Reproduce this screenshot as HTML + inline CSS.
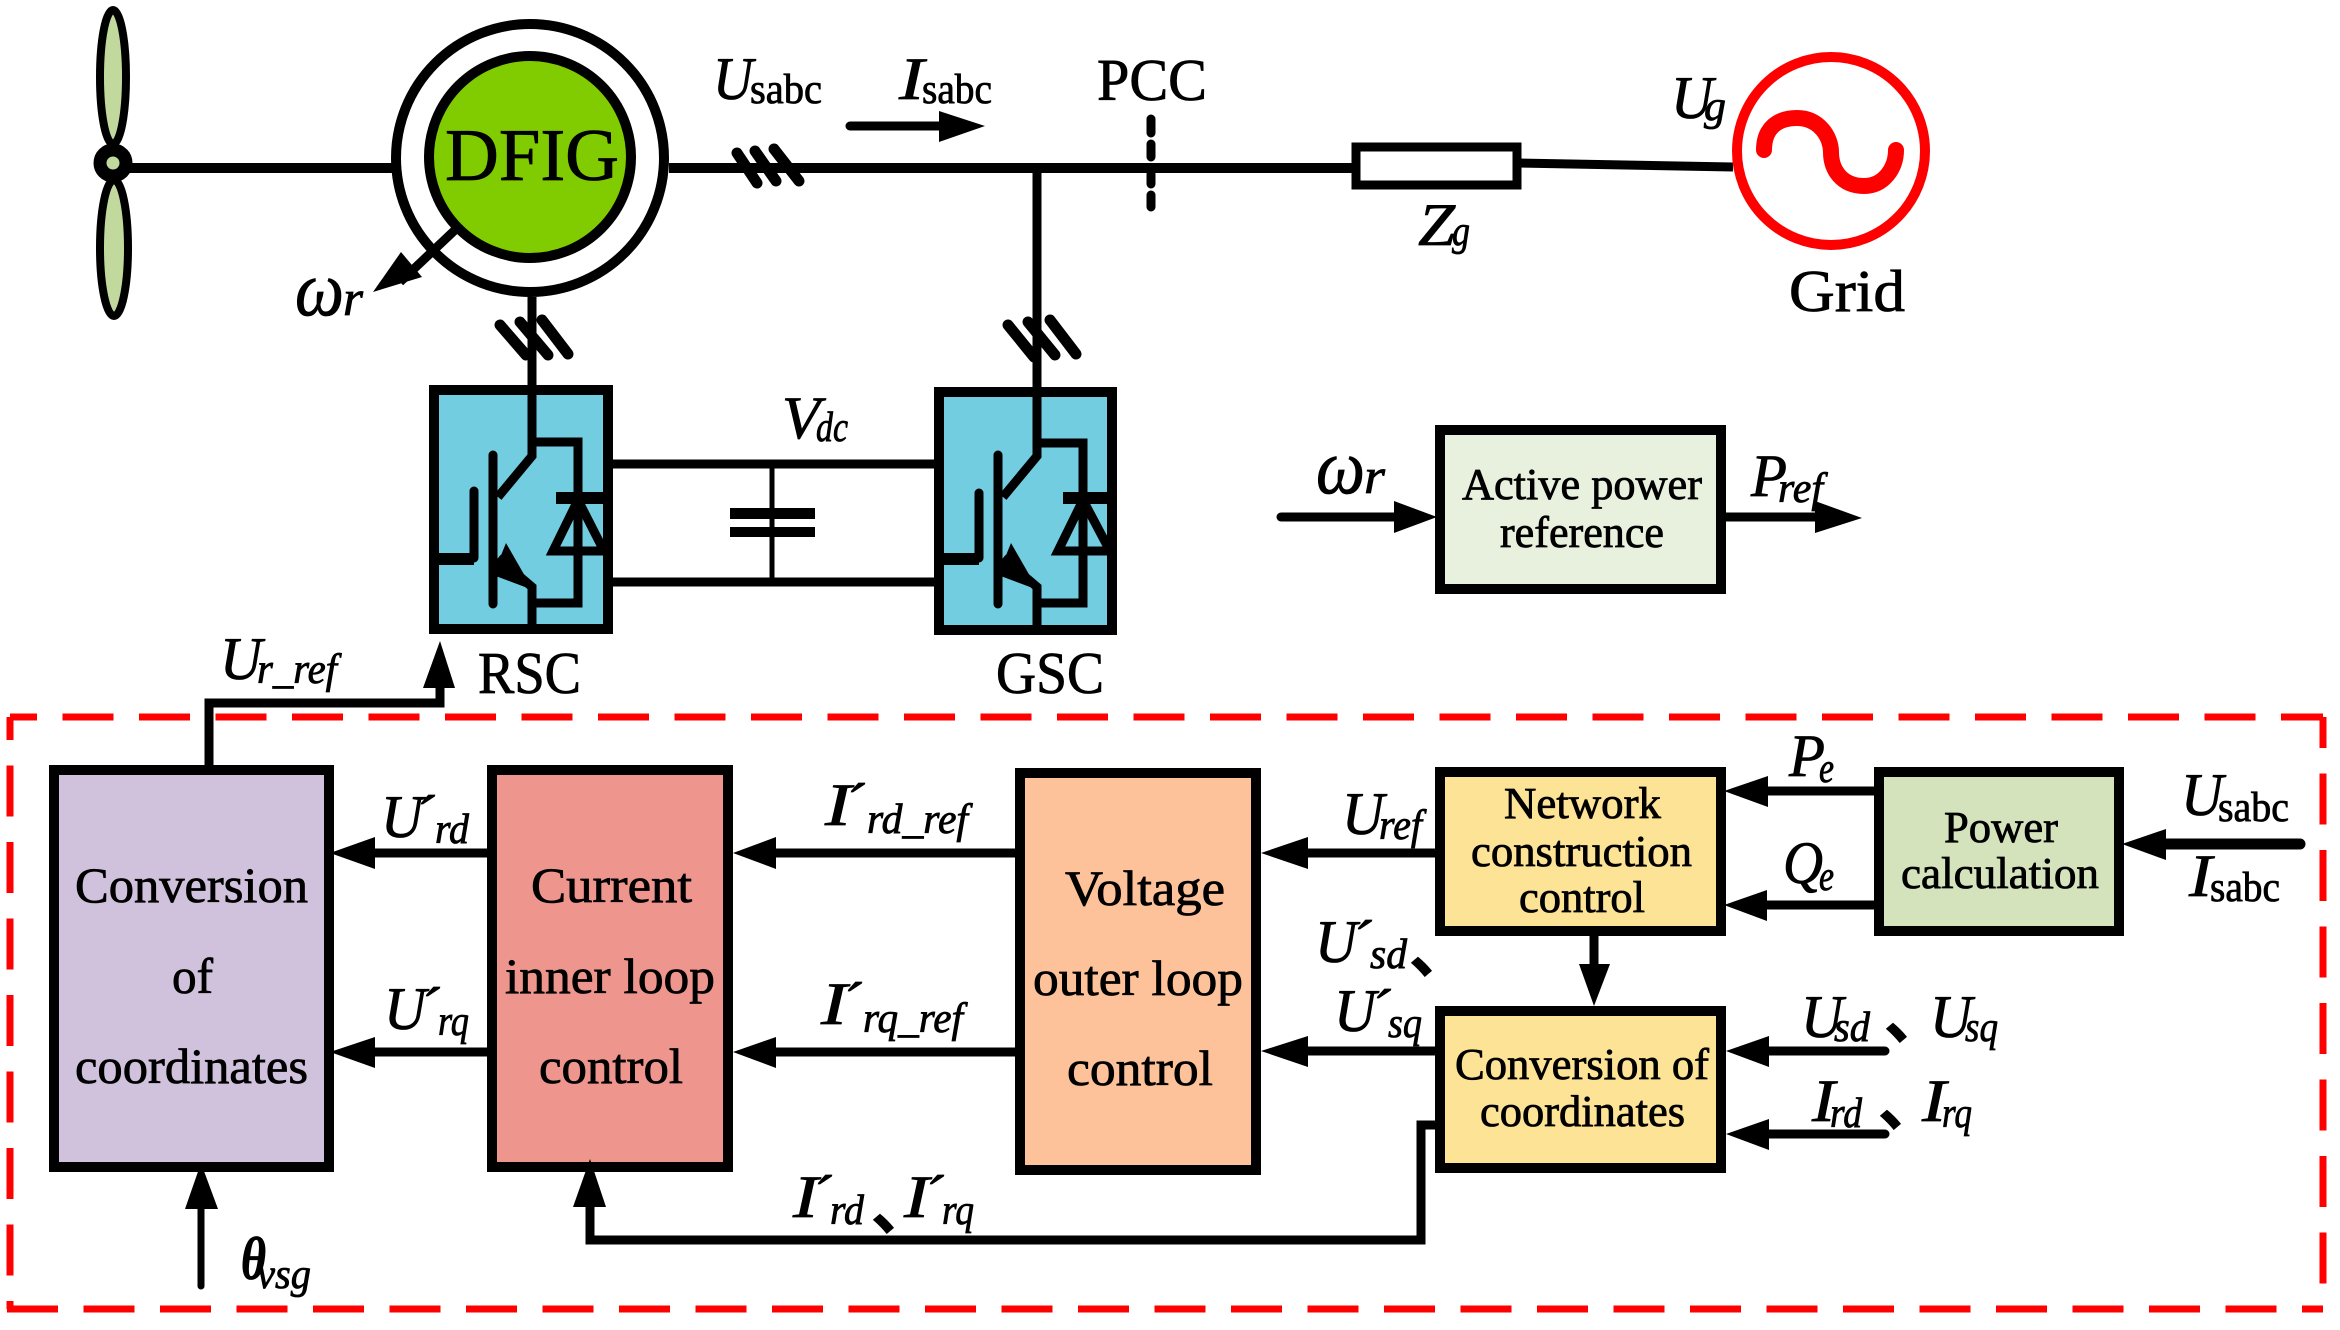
<!DOCTYPE html>
<html><head><meta charset="utf-8"><style>
html,body{margin:0;padding:0;background:#fff}
svg{display:block}
text{font-family:"Liberation Serif","Noto Serif CJK SC",serif;fill:#000;stroke:#000;stroke-width:.8px}
.m{font-style:italic;font-size:60px}
.s{font-style:italic;font-size:42px}
.u{font-style:normal}
.b{font-size:50px}
.c{font-size:44px}
.t{font-size:59px}
.a{stroke:#000;stroke-width:9;fill:none}
.sep text{font-family:"Noto Sans CJK SC",sans-serif;font-weight:bold;font-size:62px}
</style></head><body>
<svg xmlns="http://www.w3.org/2000/svg" width="2340" height="1330" viewBox="0 0 2340 1330">
<!-- dashed frame -->
<g fill="none" stroke="#ff0000" stroke-width="7">
<path d="M10 717H2323" stroke-dasharray="51 25.5" stroke-dashoffset="24"/>
<path d="M10 717V1309" stroke-dasharray="51 25.5" stroke-dashoffset="28"/>
<path d="M7 1309H2323" stroke-dasharray="51 25.5"/>
<path d="M2323 717V1309" stroke-dasharray="51 25.5" stroke-dashoffset="20"/>
</g>
<!-- turbine -->
<g stroke="#000" stroke-width="8" fill="#c2d99e">
<ellipse cx="113" cy="77" rx="13" ry="67"/>
<ellipse cx="114" cy="248" rx="14" ry="68"/>
</g>
<path d="M113 168H395" class="a" style="stroke-width:10"/>
<circle cx="113" cy="163" r="13" stroke="#000" stroke-width="13" fill="#c2d99e"/>
<!-- DFIG -->
<circle cx="530" cy="158" r="134" fill="#fff" stroke="#000" stroke-width="10"/>
<circle cx="530" cy="157" r="101" fill="#80cc00" stroke="#000" stroke-width="10"/>
<text x="445" y="180" style="font-size:74px" textLength="174" lengthAdjust="spacingAndGlyphs">DFIG</text>
<path d="M669 168H1356" class="a" style="stroke-width:10"/>
<g class="a" stroke-linecap="round" style="stroke-width:11">
<path d="M737 153L757 183M755 151L776 181M774 149L799 181"/>
<path d="M500 325L526 355M520 322L548 355M542 320L568 354"/>
<path d="M1008 325L1034 357M1028 322L1055 355M1050 320L1076 354"/>
</g>
<path d="M532 297V386M1037 168V388" class="a"/>
<!-- Isabc arrow -->
<path d="M850 126H945" class="a" stroke-linecap="round"/><polygon points="939,111 985,126 939,142"/>
<!-- PCC dash -->
<path d="M1151 119V133M1151 144V157M1151 174V184M1151 195V207" class="a" stroke-linecap="round"/>
<!-- omega arrow -->
<path d="M455 230L400 282" class="a"/><polygon points="373,292 401,252 422,277"/>
<!-- Zg, Grid -->
<path d="M1517 163L1733 167" class="a" style="stroke-width:9"/>
<rect x="1356" y="147" width="161" height="38" fill="#fff" stroke="#000" stroke-width="9"/>
<circle cx="1831" cy="151" r="94" fill="#fff" stroke="#ff0000" stroke-width="10"/>
<path d="M1764 150C1764 128 1778 118 1797 118C1820 118 1831 138 1831 152C1831 170 1842 186 1864 186C1884 186 1896 168 1896 150" fill="none" stroke="#ff0000" stroke-width="16" stroke-linecap="round"/>
<!-- RSC -->
<g id="rsc">
<rect x="434" y="390" width="174" height="239" fill="#72cde0" stroke="#000" stroke-width="10"/>
<g class="a">
<path d="M532 386V456L498 497"/>
<path d="M493 455V604M474 491V558" stroke-linecap="round"/>
<path d="M438 559H474" style="stroke-width:12"/>
<path d="M498 558L532 587V634"/>
<path d="M532 442H578V603H532"/>
<path d="M556 498H604" style="stroke-width:12"/>
<path d="M578 500L553 551H604" />
<path d="M578 500L604 551"/>
</g>
<polygon points="506,543 493,575 533,590"/>
</g>
<!-- GSC -->
<g>
<rect x="939" y="392" width="173" height="238" fill="#72cde0" stroke="#000" stroke-width="10"/>
<g class="a">
<path d="M1037 386V456L1003 497"/>
<path d="M998 455V604M979 493V558" stroke-linecap="round"/>
<path d="M943 559H979" style="stroke-width:12"/>
<path d="M1003 558L1037 587V634"/>
<path d="M1037 443H1083V603H1037"/>
<path d="M1063 498H1110" style="stroke-width:12"/>
<path d="M1083 500L1058 551H1110"/>
<path d="M1083 500L1110 551"/>
</g>
<polygon points="1011,543 998,575 1038,590"/>
</g>
<!-- DC link -->
<path d="M613 464H934M613 582H934" class="a"/>
<path d="M772 464V582" stroke="#000" stroke-width="5"/>
<rect x="730" y="508" width="85" height="11"/><rect x="730" y="527" width="85" height="10"/>
<!-- Active power -->
<rect x="1440" y="430" width="281" height="159" fill="#e8f0de" stroke="#000" stroke-width="10"/>
<path d="M1281 517H1400" class="a" stroke-linecap="round"/><polygon points="1394,501 1437,517 1394,533"/>
<path d="M1726 517H1820" class="a"/><polygon points="1815,501 1862,518 1815,533"/>
<!-- Ur_ref -->
<path d="M209 768V703H440V685" class="a"/><polygon points="440,641 423,688 455,688"/>
<!-- blocks -->
<rect x="54" y="770" width="275" height="397" fill="#d0c2dc" stroke="#000" stroke-width="10"/>
<rect x="492" y="770" width="236" height="397" fill="#ee968e" stroke="#000" stroke-width="10"/>
<rect x="1020" y="773" width="236" height="397" fill="#fdc29a" stroke="#000" stroke-width="10"/>
<rect x="1440" y="772" width="281" height="159" fill="#fde396" stroke="#000" stroke-width="10"/>
<rect x="1879" y="772" width="240" height="159" fill="#d5e3bd" stroke="#000" stroke-width="10"/>
<rect x="1440" y="1011" width="281" height="157" fill="#fde396" stroke="#000" stroke-width="10"/>
<!-- connectors -->
<g class="a">
<path d="M487 853H370M487 1052H370M1015 853H770M1015 1052H770"/>
<path d="M1435 853H1300M1435 1051H1300"/>
<path d="M1874 791H1760M1874 905H1760"/>
<path d="M1594 936V970"/>
<path d="M590 1200V1240H1421V1125H1440"/>
<path d="M2300 844H2160" stroke-linecap="round" style="stroke-width:11"/>
<path d="M1885 1051H1760M1885 1134H1760" stroke-linecap="round"/>
<path d="M201 1200V1286" stroke-linecap="round" style="stroke-width:7"/>
</g>
<polygon points="330,853 375,837 375,869"/><polygon points="330,1052 375,1037 375,1068"/>
<polygon points="733,853 776,837 776,869"/><polygon points="733,1052 776,1037 776,1068"/>
<polygon points="1261,853 1308,837 1308,869"/><polygon points="1261,1051 1308,1036 1308,1067"/>
<polygon points="1724,791 1768,776 1768,807"/><polygon points="1724,905 1767,890 1767,921"/>
<polygon points="1594,1006 1579,964 1610,964"/>
<polygon points="2122,844 2166,829 2166,860"/>
<polygon points="1726,1051 1769,1036 1769,1067"/><polygon points="1726,1134 1769,1119 1769,1150"/>
<polygon points="590,1159 573,1207 606,1207"/><polygon points="201,1163 185,1209 218,1209"/>
<!-- block text -->
<g class="b">
<text x="75" y="902" textLength="233" lengthAdjust="spacingAndGlyphs">Conversion</text>
<text x="172" y="993" textLength="41" lengthAdjust="spacingAndGlyphs">of</text>
<text x="75" y="1083" textLength="233" lengthAdjust="spacingAndGlyphs">coordinates</text>
<text x="531" y="902" textLength="161" lengthAdjust="spacingAndGlyphs">Current</text>
<text x="505" y="993" textLength="210" lengthAdjust="spacingAndGlyphs">inner loop</text>
<text x="539" y="1083" textLength="144" lengthAdjust="spacingAndGlyphs">control</text>
<text x="1065" y="905" textLength="160" lengthAdjust="spacingAndGlyphs">Voltage</text>
<text x="1033" y="995" textLength="210" lengthAdjust="spacingAndGlyphs">outer loop</text>
<text x="1067" y="1085" textLength="146" lengthAdjust="spacingAndGlyphs">control</text>
</g>
<g class="c">
<text x="1462" y="499" textLength="240" lengthAdjust="spacingAndGlyphs">Active power</text>
<text x="1500" y="547" textLength="164" lengthAdjust="spacingAndGlyphs">reference</text>
<text x="1504" y="818" textLength="157" lengthAdjust="spacingAndGlyphs">Network</text>
<text x="1471" y="866" textLength="221" lengthAdjust="spacingAndGlyphs">construction</text>
<text x="1519" y="912" textLength="126" lengthAdjust="spacingAndGlyphs">control</text>
<text x="1944" y="842" textLength="114" lengthAdjust="spacingAndGlyphs">Power</text>
<text x="1901" y="888" textLength="198" lengthAdjust="spacingAndGlyphs">calculation</text>
<text x="1455" y="1079" textLength="254" lengthAdjust="spacingAndGlyphs">Conversion of</text>
<text x="1480" y="1126" textLength="205" lengthAdjust="spacingAndGlyphs">coordinates</text>
</g>
<!-- upright labels -->
<text class="t" x="1097" y="100" textLength="110" lengthAdjust="spacingAndGlyphs">PCC</text>
<text class="t" x="1789" y="311" textLength="116" lengthAdjust="spacingAndGlyphs">Grid</text>
<text class="t" x="478" y="693" textLength="103" lengthAdjust="spacingAndGlyphs">RSC</text>
<text class="t" x="996" y="693" textLength="108" lengthAdjust="spacingAndGlyphs">GSC</text>
<!-- math labels -->
<g class="m">
<text x="713" y="99" textLength="40" lengthAdjust="spacingAndGlyphs">U</text>
<text x="899" y="99" textLength="25" lengthAdjust="spacingAndGlyphs">I</text>
<text x="1671" y="118" textLength="42" lengthAdjust="spacingAndGlyphs">U</text>
<text x="1418" y="245" textLength="37" lengthAdjust="spacingAndGlyphs">Z</text>
<text x="782" y="438" textLength="38" lengthAdjust="spacingAndGlyphs">V</text>
<text x="1751" y="496" textLength="36" lengthAdjust="spacingAndGlyphs">P</text>
<text x="220" y="679" textLength="42" lengthAdjust="spacingAndGlyphs">U</text>
<text x="381" y="837" textLength="42" lengthAdjust="spacingAndGlyphs">U</text>
<text x="384" y="1029" textLength="42" lengthAdjust="spacingAndGlyphs">U</text>
<text x="825" y="825" textLength="26" lengthAdjust="spacingAndGlyphs">I</text>
<text x="821" y="1024" textLength="26" lengthAdjust="spacingAndGlyphs">I</text>
<text x="793" y="1217" textLength="25" lengthAdjust="spacingAndGlyphs">I</text>
<text x="904" y="1217" textLength="25" lengthAdjust="spacingAndGlyphs">I</text>
<text x="1342" y="834" textLength="42" lengthAdjust="spacingAndGlyphs">U</text>
<text x="1789" y="776" textLength="36" lengthAdjust="spacingAndGlyphs">P</text>
<text x="1783" y="883" textLength="40" lengthAdjust="spacingAndGlyphs">Q</text>
<text x="2181" y="815" textLength="42" lengthAdjust="spacingAndGlyphs">U</text>
<text x="2189" y="896" textLength="23" lengthAdjust="spacingAndGlyphs">I</text>
<text x="1315" y="962" textLength="42" lengthAdjust="spacingAndGlyphs">U</text>
<text x="1334" y="1031" textLength="42" lengthAdjust="spacingAndGlyphs">U</text>
<text x="1801" y="1037" textLength="42" lengthAdjust="spacingAndGlyphs">U</text>
<text x="1930" y="1037" textLength="42" lengthAdjust="spacingAndGlyphs">U</text>
<text x="1812" y="1121" textLength="23" lengthAdjust="spacingAndGlyphs">I</text>
<text x="1922" y="1121" textLength="24" lengthAdjust="spacingAndGlyphs">I</text>
<text x="241" y="1279" textLength="25" lengthAdjust="spacingAndGlyphs" style="font-weight:bold">θ</text>
<text x="295" y="315" textLength="49" lengthAdjust="spacingAndGlyphs" style="font-size:78px">ω</text>
<text x="1316" y="493" textLength="49" lengthAdjust="spacingAndGlyphs" style="font-size:78px">ω</text>
</g>
<g class="s">
<text class="u" x="750" y="103" textLength="72" lengthAdjust="spacingAndGlyphs">sabc</text>
<text class="u" x="922" y="103" textLength="70" lengthAdjust="spacingAndGlyphs">sabc</text>
<text x="1704" y="120" textLength="22" lengthAdjust="spacingAndGlyphs">g</text>
<text x="1452" y="245" textLength="18" lengthAdjust="spacingAndGlyphs">g</text>
<text x="816" y="441" textLength="32" lengthAdjust="spacingAndGlyphs">dc</text>
<text x="1778" y="502" textLength="45" lengthAdjust="spacingAndGlyphs">ref</text>
<text x="257" y="683" textLength="80" lengthAdjust="spacingAndGlyphs">r_ref</text>
<text x="435" y="843" textLength="34" lengthAdjust="spacingAndGlyphs">rd</text>
<text x="438" y="1035" textLength="31" lengthAdjust="spacingAndGlyphs">rq</text>
<text x="867" y="833" textLength="101" lengthAdjust="spacingAndGlyphs">rd_ref</text>
<text x="863" y="1032" textLength="100" lengthAdjust="spacingAndGlyphs">rq_ref</text>
<text x="830" y="1224" textLength="34" lengthAdjust="spacingAndGlyphs">rd</text>
<text x="942" y="1224" textLength="32" lengthAdjust="spacingAndGlyphs">rq</text>
<text x="1379" y="839" textLength="43" lengthAdjust="spacingAndGlyphs">ref</text>
<text x="1819" y="782" textLength="15" lengthAdjust="spacingAndGlyphs">e</text>
<text x="1819" y="890" textLength="15" lengthAdjust="spacingAndGlyphs">e</text>
<text class="u" x="2218" y="821" textLength="71" lengthAdjust="spacingAndGlyphs">sabc</text>
<text class="u" x="2210" y="901" textLength="70" lengthAdjust="spacingAndGlyphs">sabc</text>
<text x="1370" y="968" textLength="37" lengthAdjust="spacingAndGlyphs">sd</text>
<text x="1388" y="1037" textLength="34" lengthAdjust="spacingAndGlyphs">sq</text>
<text x="1834" y="1041" textLength="36" lengthAdjust="spacingAndGlyphs">sd</text>
<text x="1965" y="1041" textLength="33" lengthAdjust="spacingAndGlyphs">sq</text>
<text x="1830" y="1127" textLength="32" lengthAdjust="spacingAndGlyphs">rd</text>
<text x="1942" y="1127" textLength="30" lengthAdjust="spacingAndGlyphs">rq</text>
<text x="257" y="1288" textLength="54" lengthAdjust="spacingAndGlyphs">vsg</text>
<text x="343" y="315" style="font-size:50px" textLength="20" lengthAdjust="spacingAndGlyphs">r</text>
<text x="1364" y="493" style="font-size:50px" textLength="21" lengthAdjust="spacingAndGlyphs">r</text>
</g>
<!-- primes -->
<g class="m">
<text x="414" y="837">´</text><text x="419" y="1029">´</text>
<text x="844" y="825">´</text><text x="841" y="1024">´</text>
<text x="811" y="1217">´</text><text x="923" y="1217">´</text>
<text x="1351" y="962">´</text><text x="1370" y="1031">´</text>
</g>
<!-- separators -->
<g class="sep">
<text x="1409" y="972">、</text>
<text x="1884" y="1038">、</text>
<text x="1878" y="1125">、</text>
<text x="871" y="1229">、</text>
</g>
</svg>
</body></html>
